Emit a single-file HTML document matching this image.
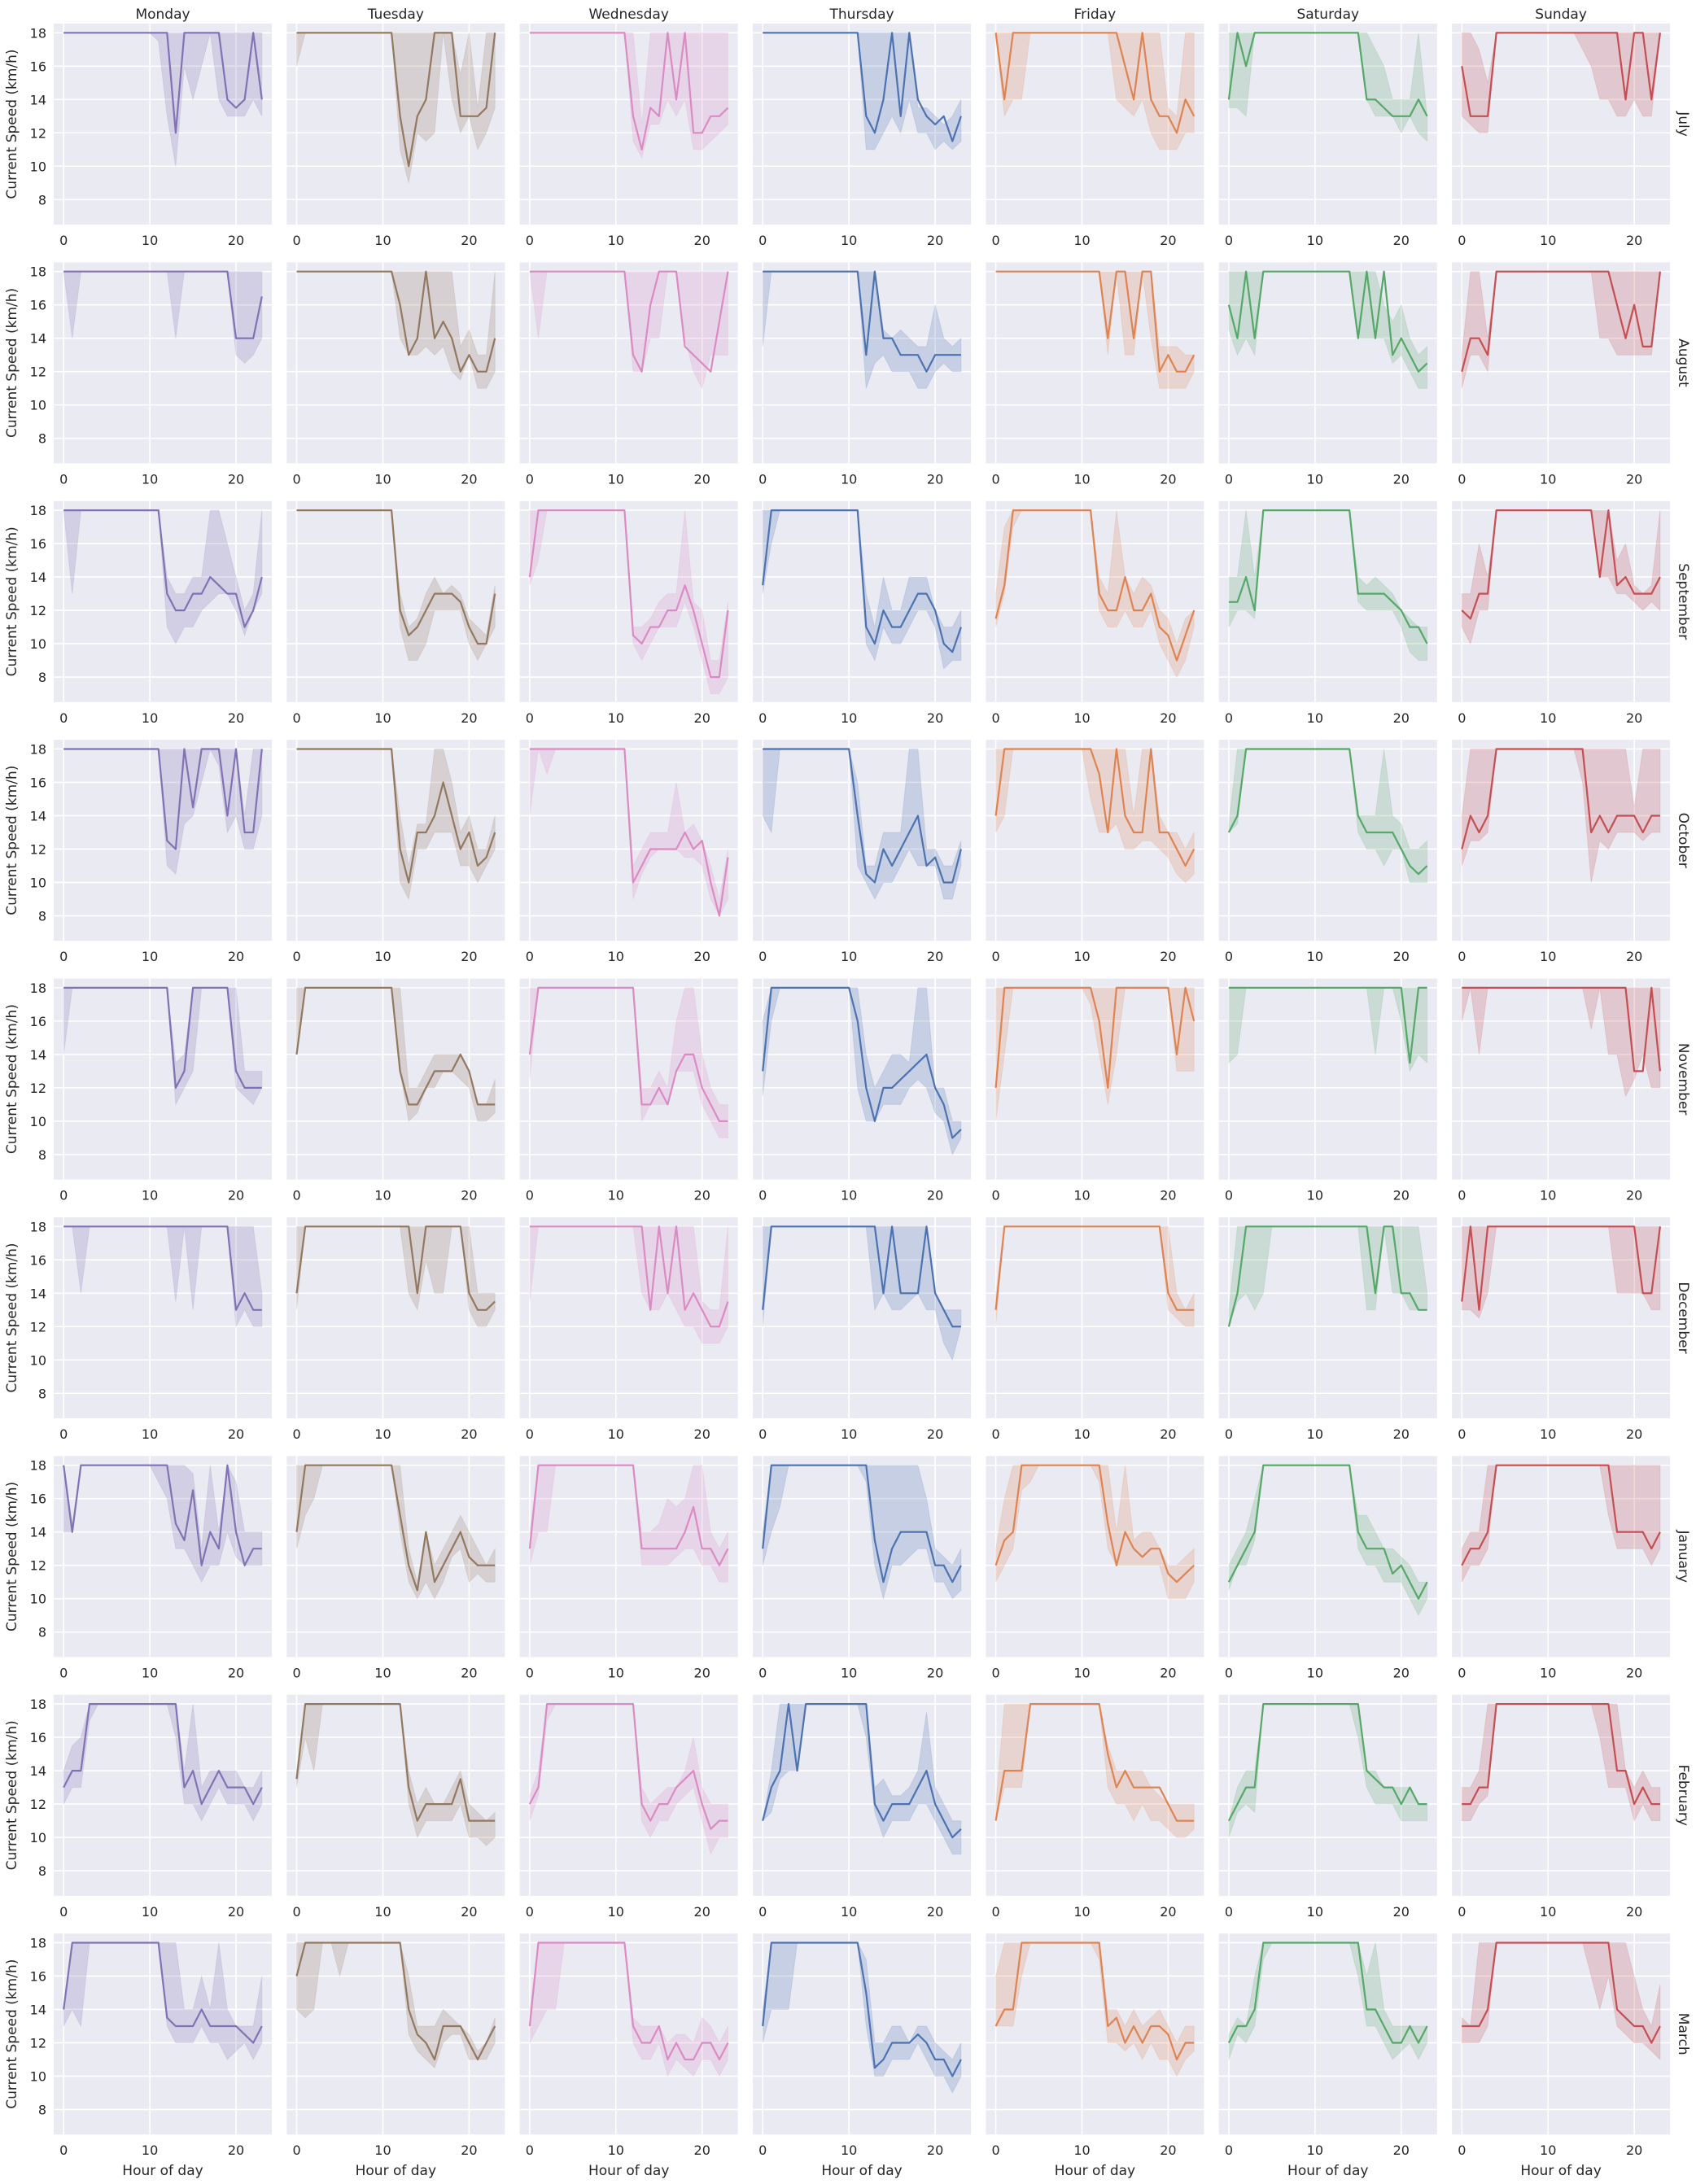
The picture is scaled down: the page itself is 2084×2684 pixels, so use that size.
<!DOCTYPE html>
<html><head><meta charset="utf-8">
<style>
html,body{margin:0;padding:0;background:#fff;}
svg{display:block;font-family:"DejaVu Sans","Liberation Sans",sans-serif;}
</style></head>
<body>
<svg id="chart" width="2084" height="2684" viewBox="0 0 2084 2684" xmlns="http://www.w3.org/2000/svg"></svg>
<script>
const days = ["Monday","Tuesday","Wednesday","Thursday","Friday","Saturday","Sunday"];
const months = ["July","August","September","October","November","December","January","February","March"];
const dayColors = ["#8172b3","#937860","#da8bc3","#4c72b0","#dd8452","#55a868","#c44e52"];
const yTicks = [8,10,12,14,16,18];
const xTicks = [0,10,20];

const meanJul = [
[18,18,18,18,18,18,18,18,18,18,18,18,18,12,18,18,18,18,18,14,13.5,14,18,14],
[18,18,18,18,18,18,18,18,18,18,18,18,13,10,13,14,18,18,18,13,13,13,13.5,18],
[18,18,18,18,18,18,18,18,18,18,18,18,13,11,13.5,13,18,14,18,12,12,13,13,13.5],
[18,18,18,18,18,18,18,18,18,18,18,18,13,12,14,18,13,18,14,13,12.5,13,11.5,13],
[18,14,18,18,18,18,18,18,18,18,18,18,18,18,18,16,14,18,14,13,13,12,14,13],
[14,18,16,18,18,18,18,18,18,18,18,18,18,18,18,18,14,14,13.5,13,13,13,14,13],
[16,13,13,13,18,18,18,18,18,18,18,18,18,18,18,18,18,18,18,14,18,18,14,18]];
const loJul = [
[18,18,18,18,18,18,18,18,18,18,18,17.5,13,10,16,14,16,18,14,13,13,13,14,13],
[16,18,18,18,18,18,18,18,18,18,18,18,11,9,12,11.5,12,18,14,12,13,11,12,13.5],
[18,18,18,18,18,18,18,18,18,18,18,18,11.5,10.5,12.5,12.5,14,13,14,11,11,11.5,12,12.5],
[18,18,18,18,18,18,18,18,18,18,18,18,11,11,12,13,12,14,12,12,11,11.5,11,11.5],
[18,13,14,14,18,18,18,18,18,18,18,18,18,18,14,13.5,13,14,12,11,11,11,12,12],
[13.5,13.5,13,18,18,18,18,18,18,18,18,18,18,18,18,18,14,13,13,13,12,13,12,11.5],
[13,12.5,12,12,18,18,18,18,18,18,18,18,18,18,17,16,14,14,13,13,14,13,13,18]];
const hiJul = [
[18,18,18,18,18,18,18,18,18,18,18,18,18,18,18,18,18,18,18,18,18,18,18,18],
[18,18,18,18,18,18,18,18,18,18,18,18,18,18,18,18,18,18,18,15.5,18,13.5,18,18],
[18,18,18,18,18,18,18,18,18,18,18,18,18,12.5,18,18,18,18,18,18,18,18,18,18],
[18,18,18,18,18,18,18,18,18,18,18,18,18,18,18,18,18,18,13.5,13.5,13,12.5,13,14],
[18,18,18,18,18,18,18,18,18,18,18,18,18,18,18,18,18,18,18,18,13.5,13,18,18],
[18,18,18,18,18,18,18,18,18,18,18,18,18,18,18,18,18,17,16,14,14,14,18,13],
[18,18,17,15,18,18,18,18,18,18,18,18,18,18,18,18,18,18,18,18,18,18,18,18]];

const meanAug = [
[18,18,18,18,18,18,18,18,18,18,18,18,18,18,18,18,18,18,18,18,14,14,14,16.5],
[18,18,18,18,18,18,18,18,18,18,18,18,16,13,14,18,14,15,14,12,13,12,12,14],
[18,18,18,18,18,18,18,18,18,18,18,18,13,12,16,18,18,18,13.5,13,12.5,12,15,18],
[18,18,18,18,18,18,18,18,18,18,18,18,13,18,14,14,13,13,13,12,13,13,13,13],
[18,18,18,18,18,18,18,18,18,18,18,18,18,14,18,18,14,18,18,12,13,12,12,13],
[16,14,18,14,18,18,18,18,18,18,18,18,18,18,18,14,18,14,18,13,14,13,12,12.5],
[12,14,14,13,18,18,18,18,18,18,18,18,18,18,18,18,18,18,16,14,16,13.5,13.5,18]];
const loAug = [
[18,14,18,18,18,18,18,18,18,18,18,18,18,14,18,18,18,18,18,18,13,12.5,13,14],
[18,18,18,18,18,18,18,18,18,18,18,18,14,13,13,13.5,13,13.5,12,11.5,13,11,11,12],
[18,14,18,18,18,18,18,18,18,18,18,18,12,12,14,14,18,18,14,12,11,13,13,13],
[13.5,18,18,18,18,18,18,18,18,18,18,18,11,12.5,13,12,12,12,11,11,12,12.5,12,12],
[18,18,18,18,18,18,18,18,18,18,18,18,18,13,18,13,13,18,14,11,11,11,11,12],
[14.5,13,14,13,18,18,18,18,18,18,18,18,18,18,18,14,14,14,14,12.5,13,12,11,11],
[11,13,13,12,18,18,18,18,18,18,18,18,18,18,18,18,14,14,13,13,13,13,13,18]];
const hiAug = [
[18,18,18,18,18,18,18,18,18,18,18,18,18,18,18,18,18,18,18,18,18,18,18,18],
[18,18,18,18,18,18,18,18,18,18,18,18,18,18,18,18,18,18,18,13.5,14.5,13,13,18],
[18,18,18,18,18,18,18,18,18,18,18,18,18,18,18,18,18,18,18,18,18,18,18,18],
[18,18,18,18,18,18,18,18,18,18,18,18,18,18,14.5,14,14.5,14,13.5,13.5,16,14,13.5,14],
[18,18,18,18,18,18,18,18,18,18,18,18,18,18,18,18,18,18,18,13.5,13.5,13.5,13,13],
[18,18,18,18,18,18,18,18,18,18,18,18,18,18,18,18,18,18,16,15,16,14,13,13.5],
[13,18,18,14,18,18,18,18,18,18,18,18,18,18,18,18,18,18,18,18,18,18,18,18]];

const meanSep = [
[18,18,18,18,18,18,18,18,18,18,18,18,13,12,12,13,13,14,13.5,13,13,11,12,14],
[18,18,18,18,18,18,18,18,18,18,18,18,12,10.5,11,12,13,13,13,12.5,11,10,10,13],
[14,18,18,18,18,18,18,18,18,18,18,18,10.5,10,11,11,12,12,13.5,12,10,8,8,12],
[13.5,18,18,18,18,18,18,18,18,18,18,18,11,10,12,11,11,12,13,13,12,10,9.5,11],
[11.5,13.5,18,18,18,18,18,18,18,18,18,18,13,12,12,14,12,12,13,11,10.5,9,10.5,12],
[12.5,12.5,14,12,18,18,18,18,18,18,18,18,18,18,18,13,13,13,13,12.5,12,11,11,10],
[12,11.5,13,13,18,18,18,18,18,18,18,18,18,18,18,18,14,18,13.5,14,13,13,13,14]];
const loSep = [
[18,13,18,18,18,18,18,18,18,18,18,18,11,10,11,11,12,12.5,13,13,12,10.5,12,13],
[18,18,18,18,18,18,18,18,18,18,18,18,11,9,9,10,12,12,12,12,10,9,10,11],
[13.5,15,18,18,18,18,18,18,18,18,18,18,10,9,10,11,11,11,12.5,11,9,7,7,8],
[13,16,18,18,18,18,18,18,18,18,18,18,10,9,11,10,10,11,12,12,11,8.5,9,9],
[11,13,17,18,18,18,18,18,18,18,18,18,12,11,11,12,11,11,12,10,9,8,9,11],
[11,12,12,11.5,18,18,18,18,18,18,18,18,18,18,18,12.5,12,12,12,12,11,9.5,9,9],
[11,10,12,12,18,18,18,18,18,18,18,18,18,18,18,18,14,14,13,13,12.5,12,12.5,12]];
const hiSep = [
[18,18,18,18,18,18,18,18,18,18,18,18,14,13,13,14,14,18,18,16,14,12,13,18],
[18,18,18,18,18,18,18,18,18,18,18,18,13,11,11.5,13,14,13,13.5,13,11.5,11,10.5,13.5],
[18,18,18,18,18,18,18,18,18,18,18,18,11,11,11.5,12.5,13,13,18,12.5,12,9,9,12.5],
[18,18,18,18,18,18,18,18,18,18,18,18,13,11,14,12,12,14,14,14,12,11,11,12],
[13,17,18,18,18,18,18,18,18,18,18,18,14,13,18,14,13,14,13.5,12,11.5,10,11.5,12],
[14,14,18,14,18,18,18,18,18,18,18,18,18,18,18,14,13.5,14,13.5,13,12,11.5,11,11],
[13,13,16,14,18,18,18,18,18,18,18,18,18,18,18,18,18,18,15,16,13.5,13,13.5,18]];

const meanOct = [
[18,18,18,18,18,18,18,18,18,18,18,18,12.5,12,18,14.5,18,18,18,14,18,13,13,18],
[18,18,18,18,18,18,18,18,18,18,18,18,12,10,13,13,14,16,14,12,13,11,11.5,13],
[18,18,18,18,18,18,18,18,18,18,18,18,10,11,12,12,12,12,13,12,12.5,10,8,11.5],
[18,18,18,18,18,18,18,18,18,18,18,14,10.5,10,12,11,12,13,14,11,11.5,10,10,12],
[14,18,18,18,18,18,18,18,18,18,18,18,16.5,13,18,14,13,13,18,13,13,12,11,12],
[13,14,18,18,18,18,18,18,18,18,18,18,18,18,18,14,13,13,13,13,12,11,10.5,11],
[12,14,13,14,18,18,18,18,18,18,18,18,18,18,18,13,14,13,14,14,14,13,14,14]];
const loOct = [
[18,18,18,18,18,18,18,18,18,18,18,18,11,10.5,13.5,14,16,18,17,13,14,12,12,14],
[18,18,18,18,18,18,18,18,18,18,18,18,10,9,12,12,13,13,13,11,11,10,11,12],
[14,18,18,18,18,18,18,18,18,18,18,18,9,10.5,11.5,12,12,12,11.5,11.5,11,9,8,9],
[14,13,18,18,18,18,18,18,18,18,18,11,10,9,10,10,11,12,11,11,11,9,9,11],
[13,14,18,18,18,18,18,18,18,18,18,15,13,13,13.5,12,12,12.5,12.5,12,11.5,10.5,10,10.5],
[13,13.5,18,18,18,18,18,18,18,18,18,18,18,18,18,13,12,12,11,12,12,10,10,10],
[11,12.5,12.5,13,18,18,18,18,18,18,18,18,18,18,16,10,12.5,12,13,13,13,12.5,13,13]];
const hiOct = [
[18,18,18,18,18,18,18,18,18,18,18,18,18,18,18,18,18,18,18,18,18,14,18,18],
[18,18,18,18,18,18,18,18,18,18,18,18,14,11,13.5,13.5,18,18,16,13,14,12,12,14],
[18,18,16.5,18,18,18,18,18,18,18,18,18,11,12,13,13,13,16,13,13.5,12.5,11,9,12],
[18,18,18,18,18,18,18,18,18,18,18,16,11,11,13,13,13,18,18,12,12,11,11,12.5],
[18,18,18,18,18,18,18,18,18,18,18,18,18,18,18,18,14,18,18,14,13,13,12,13],
[13.5,18,18,18,18,18,18,18,18,18,18,18,18,18,18,14,14,14,18,14,13.5,12,12,12.5],
[14,18,18,18,18,18,18,18,18,18,18,18,18,18,18,18,18,18,18,18,14.5,18,18,18]];

const meanNov = [
[18,18,18,18,18,18,18,18,18,18,18,18,18,12,13,18,18,18,18,18,13,12,12,12],
[14,18,18,18,18,18,18,18,18,18,18,18,13,11,11,12,13,13,13,14,13,11,11,11],
[14,18,18,18,18,18,18,18,18,18,18,18,18,11,11,12,11,13,14,14,12,11,10,10],
[13,18,18,18,18,18,18,18,18,18,18,16,12,10,12,12,12.5,13,13.5,14,12,11,9,9.5],
[12,18,18,18,18,18,18,18,18,18,18,18,16,12,18,18,18,18,18,18,18,14,18,16],
[18,18,18,18,18,18,18,18,18,18,18,18,18,18,18,18,18,18,18,18,18,13.5,18,18],
[18,18,18,18,18,18,18,18,18,18,18,18,18,18,18,18,18,18,18,18,13,13,18,13]];
const loNov = [
[14,18,18,18,18,18,18,18,18,18,18,18,18,11,12,13,18,18,18,18,12,11.5,11,12],
[14,18,18,18,18,18,18,18,18,18,18,18,13,10,10.5,12,12,13,13,12.5,12,10,10,10.5],
[12.5,18,18,18,18,18,18,18,18,18,18,18,18,10,11,11,11,13,13,13,11,10,9,9],
[11.5,16,18,18,18,18,18,18,18,18,18,12,10,10,11,11,11,12,12.5,12,10.5,10,8,9],
[10,14,18,18,18,18,18,18,18,18,18,17,14,11,14,18,18,18,18,18,18,13,13,13],
[13.5,14,18,18,18,18,18,18,18,18,18,18,18,18,18,18,18,14,18,18,16,13,14,13.5],
[16,18,14,18,18,18,18,18,18,18,18,18,18,18,18,15.5,18,14,14,11.5,12.5,14,12,12]];
const hiNov = [
[18,18,18,18,18,18,18,18,18,18,18,18,18,13.5,14,18,18,18,18,18,18,13,13,13],
[18,18,18,18,18,18,18,18,18,18,18,18,18,12,12,13,14,14,14,14,13,11,11,12.5],
[18,18,18,18,18,18,18,18,18,18,18,18,18,12,12,13,12,16,18,18,14,12,11,11],
[16,18,18,18,18,18,18,18,18,18,18,18,14,12,13,14,14,13.5,18,18,12,12,10,10],
[18,18,18,18,18,18,18,18,18,18,18,18,18,18,18,18,18,18,18,18,18,18,18,18],
[18,18,18,18,18,18,18,18,18,18,18,18,18,18,18,18,18,18,18,18,18,18,18,18],
[18,18,18,18,18,18,18,18,18,18,18,18,18,18,18,18,18,18,18,18,18,18,18,18]];

const meanDec = [
[18,18,18,18,18,18,18,18,18,18,18,18,18,18,18,18,18,18,18,18,13,14,13,13],
[14,18,18,18,18,18,18,18,18,18,18,18,18,18,14,18,18,18,18,18,14,13,13,13.5],
[18,18,18,18,18,18,18,18,18,18,18,18,18,18,13,18,14,18,13,14,13,12,12,13.5],
[13,18,18,18,18,18,18,18,18,18,18,18,18,18,14,18,14,14,14,18,14,13,12,12],
[13,18,18,18,18,18,18,18,18,18,18,18,18,18,18,18,18,18,18,18,14,13,13,13],
[12,14,18,18,18,18,18,18,18,18,18,18,18,18,18,18,18,14,18,18,14,14,13,13],
[13.5,18,13,18,18,18,18,18,18,18,18,18,18,18,18,18,18,18,18,18,18,14,14,18]];
const loDec = [
[18,18,14,18,18,18,18,18,18,18,18,18,18,13.5,18,13,18,18,18,18,12,13,12,12],
[13,18,18,18,18,18,18,18,18,18,18,18,18,14,13,16,14,14,18,18,13,12,12,13],
[13.5,18,18,18,18,18,18,18,18,18,18,18,18,14,13,13,14,13,12,12,11,11,11,12],
[12,18,18,18,18,18,18,18,18,18,18,18,18,13,14,13,13,13.5,14,13,13,11,10,12],
[12,18,18,18,18,18,18,18,18,18,18,18,18,18,18,18,18,18,18,18,13,12.5,12,12],
[12,13.5,14,13,14,18,18,18,18,18,18,18,18,18,18,18,13,13,18,14,14,13,13,13],
[13,13,12.5,14,18,18,18,18,18,18,18,18,18,18,18,18,18,18,14,14,14,14,13,13]];
const hiDec = [
[18,18,18,18,18,18,18,18,18,18,18,18,18,18,18,18,18,18,18,18,18,18,18,14],
[18,18,18,18,18,18,18,18,18,18,18,18,18,18,18,18,18,18,18,18,18,14,14,14],
[18,18,18,18,18,18,18,18,18,18,18,18,18,18,18,18,18,18,18,18,13.5,13,13,18],
[18,18,18,18,18,18,18,18,18,18,18,18,18,18,18,18,18,18,18,18,14,13,13,13],
[14,18,18,18,18,18,18,18,18,18,18,18,18,18,18,18,18,18,18,18,18,14,13,14],
[13,18,18,18,18,18,18,18,18,18,18,18,18,18,18,18,18,18,18,18,18,18,18,14],
[18,18,18,18,18,18,18,18,18,18,18,18,18,18,18,18,18,18,18,18,18,18,18,18]];

const meanJan = [
[18,14,18,18,18,18,18,18,18,18,18,18,18,14.5,13.5,16.5,12,14,13,18,14,12,13,13],
[14,18,18,18,18,18,18,18,18,18,18,18,15,12,10.5,14,11,12,13,14,12.5,12,12,12],
[13,18,18,18,18,18,18,18,18,18,18,18,18,13,13,13,13,13,14,15.5,13,13,12,13],
[13,18,18,18,18,18,18,18,18,18,18,18,18,13.5,11,13,14,14,14,14,12,12,11,12],
[12,13.5,14,18,18,18,18,18,18,18,18,18,18,14.5,12,14,13,12.5,13,13,11.5,11,11.5,12],
[11,12,13,14,18,18,18,18,18,18,18,18,18,18,18,14,13,13,13,11.5,12,11,10,11],
[12,13,13,14,18,18,18,18,18,18,18,18,18,18,18,18,18,18,14,14,14,14,13,14]];
const loJan = [
[14,14,18,18,18,18,18,18,18,18,18,17,16,13,13,12,11,12,12,14,12.5,12,12,12],
[13,15,16,18,18,18,18,18,18,18,18,18,14,11,10,11,10,11,12.5,13,11,11.5,11,11],
[12,14,14,18,18,18,18,18,18,18,18,18,18,12,12,12,12,12.5,13,13,12,12,11,11],
[12,14,15.5,18,18,18,18,18,18,18,18,18,17,12,10,12,12,12.5,13,13,11,11,10,10.5],
[11,12,13,16.5,17,18,18,18,18,18,18,18,17,13,12,12,12,12,12,12,10,10,10,11],
[10.5,12,12,13.5,18,18,18,18,18,18,18,18,18,18,18,13,12,12,11,11,11,10,9,10],
[11,12,12,13,18,18,18,18,18,18,18,18,18,18,18,18,18,15,13,13,13,13,12,13]];
const hiJan = [
[18,14.5,18,18,18,18,18,18,18,18,18,18,18,18,18,17.5,13,18,14,18,17,14,14,14],
[18,18,18,18,18,18,18,18,18,18,18,18,18,13,11,14,12,13,14,15,14,13,12,13],
[14,18,18,18,18,18,18,18,18,18,18,18,18,14,14,14.5,16,15.5,16,18,18,14,13,14],
[14,18,18,18,18,18,18,18,18,18,18,18,18,18,18,18,18,18,18,16,13,12.5,12,13],
[13,16,18,18,18,18,18,18,18,18,18,18,18,18,14,18,13.5,14,14,13,12,12,12.5,13],
[12,13,14,16,18,18,18,18,18,18,18,18,18,18,18,15,15,14,13,13,12.5,12,11,11],
[13,14,14,18,18,18,18,18,18,18,18,18,18,18,18,18,18,18,18,18,18,18,18,18]];

const meanFeb = [
[13,14,14,18,18,18,18,18,18,18,18,18,18,18,13,14,12,13,14,13,13,13,12,13],
[13.5,18,18,18,18,18,18,18,18,18,18,18,18,13,11,12,12,12,12,13.5,11,11,11,11],
[12,13,18,18,18,18,18,18,18,18,18,18,18,12,11,12,12,13,13.5,14,12,10.5,11,11],
[11,13,14,18,14,18,18,18,18,18,18,18,18,12,11,12,12,12,13,14,12,11,10,10.5],
[11,14,14,14,18,18,18,18,18,18,18,18,18,15,13,14,13,13,13,13,12,11,11,11],
[11,12,13,13,18,18,18,18,18,18,18,18,18,18,18,18,14,13.5,13,13,12,13,12,12],
[12,12,13,13,18,18,18,18,18,18,18,18,18,18,18,18,18,18,14,14,12,13,12,12]];
const loFeb = [
[12,13,13,17,18,18,18,18,18,18,18,18,18,16,12,12,11,12,13,12,12,12,11,12],
[13,16,14,18,18,18,18,18,18,18,18,18,18,12,10,11,11,11,11,12,10,10,9.5,10],
[11,12.5,17,18,18,18,18,18,18,18,18,18,18,11,10,11,11,12,12.5,13,11,9,10,10],
[11,11.5,13.5,14,14,18,18,18,18,18,18,18,16,11.5,10,11,11,11,12,12,11,10,9,9],
[11,13,13,13,18,18,18,18,18,18,18,18,18,13,12,12,11,12,11,11,10.5,10,10,10.5],
[10,11.5,12,11.5,18,18,18,18,18,18,18,18,18,18,18,16,13,12,12,12,11,11,11,11],
[11,11,12,12.5,18,18,18,18,18,18,18,18,18,18,18,18,16,13,13,13,11,12,11,11]];
const hiFeb = [
[14,15.5,16,18,18,18,18,18,18,18,18,18,18,18,14,18,13,14,14,14,14,13,13,14],
[14,18,18,18,18,18,18,18,18,18,18,18,18,14,12,13,12,12,13,14,12,11.5,11,11.5],
[12.5,14,18,18,18,18,18,18,18,18,18,18,18,13,12,12.5,13,13,14,16,13,12,12,12],
[11,14,18,18,18,18,18,18,18,18,18,18,18,13,13.5,12.5,12.5,13,14,17.5,13,12,11,11],
[12,18,18,18,18,18,18,18,18,18,18,18,18,15.5,14,14,14,14,13,12.5,12,12,12,12],
[11,13,14,14,18,18,18,18,18,18,18,18,18,18,18,18,14,14,13,13,13,13,12,12],
[13,13,14,18,18,18,18,18,18,18,18,18,18,18,18,18,18,18,18,14,13,14,13,13]];

const meanMar = [
[14,18,18,18,18,18,18,18,18,18,18,18,13.5,13,13,13,14,13,13,13,13,12.5,12,13],
[16,18,18,18,18,18,18,18,18,18,18,18,18,14,12.5,12,11,13,13,13,12,11,12,13],
[13,18,18,18,18,18,18,18,18,18,18,18,13,12,12,13,11,12,11,11,12,12,11,12],
[13,18,18,18,18,18,18,18,18,18,18,18,15,10.5,11,12,12,12,12.5,12,11,11,10,11],
[13,14,14,18,18,18,18,18,18,18,18,18,18,13,13.5,12,13,12,13,13,12.5,11,12,12],
[12,13,13,14,18,18,18,18,18,18,18,18,18,18,18,18,14,14,13,12,12,13,12,13],
[13,13,13,14,18,18,18,18,18,18,18,18,18,18,18,18,18,18,14,13.5,13,13,12,13]];
const loMar = [
[13,14,13,18,18,18,18,18,18,18,18,18,13,12,12,12,13,12,12,11,11.5,12,11,12],
[14,13.5,14,18,18,18,18,18,18,18,18,18,18,12.5,11.5,11,10.5,12,12.5,12.5,11,11,11,12],
[12,13,14,14,18,18,18,18,18,18,18,18,12,11,11,12,10,11,10.5,10,11,11,10,11],
[12,14,14,14,18,18,18,18,18,18,18,18,13,10,10,11,11,11,12,11,10,10,9,10],
[13,13,13,16,18,18,18,18,18,18,18,18,17,12,12,11.5,12,11,12,11,11,10,11,11.5],
[11,12.5,12,13,17,18,18,18,18,18,18,18,18,18,18,16,13,13,12,11,11.5,12,11,12],
[12,12,12,13,18,18,18,18,18,18,18,18,18,18,18,16,14,16,13,12.5,12,12,11.5,11]];
const hiMar = [
[14,18,18,18,18,18,18,18,18,18,18,18,18,18,14,14,16,14,18,14,13,13,13,16],
[18,18,18,18,18,16,18,18,18,18,18,18,18,16,13,13,13,14,13.5,13,12.5,11.5,12,13.5],
[14,18,18,18,18,18,18,18,18,18,18,18,13.5,13,13,13,12,12.5,12.5,12,13.5,13,12,13],
[14,18,18,18,18,18,18,18,18,18,18,18,17,12,12,13,13,12,13,13,12,11.5,11,12],
[16,18,18,18,18,18,18,18,18,18,18,18,18,14,14,13,14,13,13.5,14,13,12,13,13],
[12.5,13.5,13,16,18,18,18,18,18,18,18,18,18,18,18,18,16,18,14,13,13,13,13,13],
[13.5,13,18,18,18,18,18,18,18,18,18,18,18,18,18,18,18,18,18,18,16,14,13,15.5]];

const meanRows = [meanJul, meanAug, meanSep, meanOct, meanNov, meanDec, meanJan, meanFeb, meanMar];
const loRows = [loJul, loAug, loSep, loOct, loNov, loDec, loJan, loFeb, loMar];
const hiRows = [hiJul, hiAug, hiSep, hiOct, hiNov, hiDec, hiJan, hiFeb, hiMar];

const NS = "http://www.w3.org/2000/svg";
const svg = document.getElementById("chart");
const PANEL_W = 268, PANEL_H = 247;
const X_MIN = -1.15, X_MAX = 24.15, Y_MIN = 6.5, Y_MAX = 18.55;
function panelLeft(c){ return 66 + 286.35 * c; }
function panelTop(r){ return 29 + 293.4 * r; }
function xScale(c, h){ return panelLeft(c) + (h - X_MIN) / (X_MAX - X_MIN) * PANEL_W; }
function yScale(r, v){ return panelTop(r) + (Y_MAX - v) / (Y_MAX - Y_MIN) * PANEL_H; }
function mk(tag, attrs, parent){
  const e = document.createElementNS(NS, tag);
  for (const k in attrs) e.setAttribute(k, attrs[k]);
  (parent || svg).appendChild(e);
  return e;
}

for (let r = 0; r < months.length; r++) {
  for (let c = 0; c < days.length; c++) {
    const g = mk("g", {});
    
    
    const L = panelLeft(c), T = panelTop(r);
    const bg = mk("rect", {x: L, y: T, width: PANEL_W, height: PANEL_H, fill: "#eaeaf2"}, g);
    
    
    for (const t of yTicks) {
      const y = yScale(r, t);
      const gl = mk("line", {x1: L, x2: L + PANEL_W, y1: y, y2: y, stroke: "#fff", "stroke-width": 1.6}, g);
      
      
    }
    for (const t of xTicks) {
      const x = xScale(c, t);
      const gl = mk("line", {x1: x, x2: x, y1: T, y2: T + PANEL_H, stroke: "#fff", "stroke-width": 1.6}, g);
      
      
    }
    const mean = meanRows[r][c], lo = loRows[r][c], hi = hiRows[r][c];
    let pts = [];
    for (let h = 0; h < hi.length; h++) pts.push(xScale(c, h).toFixed(1) + "," + yScale(r, hi[h]).toFixed(1));
    for (let h = lo.length - 1; h >= 0; h--) pts.push(xScale(c, h).toFixed(1) + "," + yScale(r, lo[h]).toFixed(1));
    const band = mk("polygon", {points: pts.join(" "), fill: dayColors[c], "fill-opacity": 0.22, stroke: dayColors[c], "stroke-opacity": 0.15, "stroke-width": 1}, g);
    
    
    const lp = mean.map((v, h) => xScale(c, h).toFixed(1) + "," + yScale(r, v).toFixed(1)).join(" ");
    const line = mk("polyline", {points: lp, fill: "none", stroke: dayColors[c], "stroke-width": 2.2, "stroke-linejoin": "round"}, g);
    
    

    for (const t of xTicks) {
      const tx = mk("text", {x: xScale(c, t), y: T + PANEL_H + 25, "text-anchor": "middle", "font-size": 16, fill: "#262626"}, g);
      tx.textContent = t;
      
      
    }
    if (c === 0) {
      for (const t of yTicks) {
        const ty = mk("text", {x: L - 9, y: yScale(r, t) + 6, "text-anchor": "end", "font-size": 16, fill: "#262626"}, g);
        ty.textContent = t;
        
        
      }
      const cy = T + PANEL_H / 2;
      const yl = mk("text", {x: 20, y: cy, "text-anchor": "middle", "font-size": 17, fill: "#262626", transform: "rotate(-90 20 " + cy + ")"}, g);
      yl.textContent = "Current Speed (km/h)";
      
      
    }
    if (r === 0) {
      const tt = mk("text", {x: L + PANEL_W / 2, y: 23, "text-anchor": "middle", "font-size": 17, fill: "#262626"}, g);
      tt.textContent = days[c];
      
      
    }
    if (r === months.length - 1) {
      const xl = mk("text", {x: L + PANEL_W / 2, y: T + PANEL_H + 50, "text-anchor": "middle", "font-size": 17, fill: "#262626"}, g);
      xl.textContent = "Hour of day";
      
      
    }
    if (c === days.length - 1) {
      const cy = T + PANEL_H / 2, cx = L + PANEL_W + 11;
      const ml = mk("text", {x: cx, y: cy, "text-anchor": "middle", "font-size": 17, fill: "#262626", transform: "rotate(90 " + cx + " " + cy + ")"}, g);
      ml.textContent = months[r];
      
      
    }
  }
}
</script>
</body></html>
